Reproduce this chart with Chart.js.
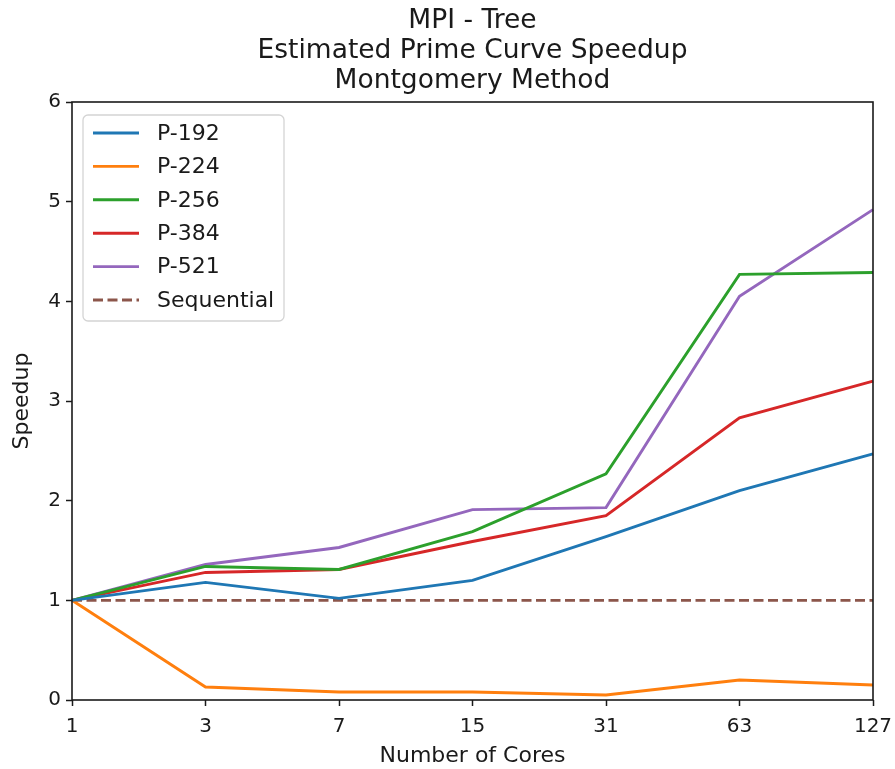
<!DOCTYPE html>
<html>
<head>
<meta charset="utf-8">
<script src="https://cdn.jsdelivr.net/npm/chart.js@4.4.1/dist/chart.umd.min.js"></script>
<style>
  html, body { margin: 0; padding: 0; background: #ffffff; }
  #wrap { width: 895px; height: 769px; position: relative; }
</style>
</head>
<body>
<div id="wrap"><canvas id="chart" width="895" height="769"></canvas></div>
<script>
// Core counts on the x axis
const cores = ['1', '3', '7', '15', '31', '63', '127'];

// Measured speedup per curve
const p192 = [1.00, 1.18, 1.02, 1.20, 1.64, 2.10, 2.47];
const p224 = [1.00, 0.13, 0.08, 0.08, 0.05, 0.20, 0.15];
const p256 = [1.00, 1.34, 1.31, 1.69, 2.27, 4.27, 4.29];
const p384 = [1.00, 1.28, 1.31, 1.59, 1.85, 2.83, 3.20];
const p521 = [1.00, 1.36, 1.53, 1.91, 1.93, 4.05, 4.92];
const sequential = [1, 1, 1, 1, 1, 1, 1];

const titleLines = ['MPI - Tree', 'Estimated Prime Curve Speedup', 'Montgomery Method'];
const FONT = "'DejaVu Sans', 'Liberation Sans', sans-serif";
const INK = '#1a1a1a';

function series(label, data, color, dash) {
  return {
    label, data,
    borderColor: color,
    backgroundColor: color,
    borderWidth: 2.9,
    borderDash: dash || [],
    pointRadius: 0,
    pointHoverRadius: 0,
    tension: 0,
    fill: false
  };
}

// Three-line title centred over the plotting area
const axesTitle = {
  id: 'axesTitle',
  afterDraw(chart) {
    const a = chart.chartArea, ctx = chart.ctx;
    const cx = (a.left + a.right) / 2;
    ctx.save();
    ctx.font = '26.5px ' + FONT;
    ctx.fillStyle = INK;
    ctx.textAlign = 'center';
    ctx.textBaseline = 'alphabetic';
    titleLines.forEach((t, i) => {
      ctx.fillText(t, cx, a.top - 74 + i * 29.8);
    });
    ctx.restore();
  }
};

// Frame around the plotting area (all four spines)
const frame = {
  id: 'frame',
  afterDatasetsDraw(chart) {
    const a = chart.chartArea, ctx = chart.ctx;
    ctx.save();
    ctx.strokeStyle = INK;
    ctx.lineWidth = 1.6;
    ctx.strokeRect(a.left, a.top, a.right - a.left, a.bottom - a.top);
    ctx.restore();
  }
};

// Boxed legend placed inside the upper-left corner of the plot
const insideLegend = {
  id: 'insideLegend',
  afterDraw(chart) {
    const a = chart.chartArea, ctx = chart.ctx;
    const sets = chart.data.datasets;
    const x0 = a.left + 11, y0 = a.top + 13;
    const w = 201, rowH = 33.4, h = 206;
    ctx.save();
    ctx.beginPath();
    ctx.roundRect(x0, y0, w, h, 5);
    ctx.fillStyle = 'rgba(255,255,255,0.85)';
    ctx.fill();
    ctx.strokeStyle = '#d4d4d4';
    ctx.lineWidth = 1.3;
    ctx.stroke();
    ctx.font = '22px ' + FONT;
    ctx.textBaseline = 'middle';
    ctx.textAlign = 'left';
    sets.forEach((ds, i) => {
      const cy = y0 + 18 + i * rowH;
      ctx.beginPath();
      ctx.setLineDash(ds.borderDash || []);
      ctx.strokeStyle = ds.borderColor;
      ctx.lineWidth = ds.borderWidth;
      ctx.moveTo(x0 + 10, cy);
      ctx.lineTo(x0 + 56, cy);
      ctx.stroke();
      ctx.setLineDash([]);
      ctx.fillStyle = INK;
      ctx.fillText(ds.label, x0 + 74, cy + 1);
    });
    ctx.restore();
  }
};

new Chart(document.getElementById('chart'), {
  type: 'line',
  data: {
    labels: cores,
    datasets: [
      series('P-192', p192, '#1f77b4'),
      series('P-224', p224, '#ff7f0e'),
      series('P-256', p256, '#2ca02c'),
      series('P-384', p384, '#d62728'),
      series('P-521', p521, '#9467bd'),
      series('Sequential', sequential, '#8c564b', [10, 4.5])
    ]
  },
  options: {
    responsive: false,
    animation: false,
    devicePixelRatio: 1,
    layout: { padding: { left: 0, right: 22, top: 102, bottom: 0 } },
    plugins: {
      legend: { display: false },
      tooltip: { enabled: false },
      title: { display: false }
    },
    scales: {
      x: {
        type: 'category',
        offset: false,
        afterFit(scale) {
          scale.height = 69;
          scale.paddingLeft = 0;
          scale.paddingRight = 0;
        },
        border: { display: false },
        grid: {
          display: true,
          drawOnChartArea: false,
          drawTicks: true,
          tickLength: 6,
          tickWidth: 1.5,
          tickColor: INK
        },
        ticks: {
          color: INK,
          font: { family: FONT, size: 20 },
          padding: 9,
          maxRotation: 0,
          autoSkip: false
        },
        title: {
          display: true,
          text: 'Number of Cores',
          color: INK,
          font: { family: FONT, size: 22 },
          padding: { top: 0, bottom: 0 }
        }
      },
      y: {
        min: 0,
        max: 6,
        afterFit(scale) {
          scale.width = 72;
          scale.paddingTop = 0;
          scale.paddingBottom = 0;
        },
        border: { display: false },
        grid: {
          display: true,
          drawOnChartArea: false,
          drawTicks: true,
          tickLength: 6,
          tickWidth: 1.5,
          tickColor: INK
        },
        ticks: {
          stepSize: 1,
          color: INK,
          font: { family: FONT, size: 20 },
          padding: 5
        },
        title: {
          display: true,
          text: 'Speedup',
          color: INK,
          font: { family: FONT, size: 22 },
          padding: { top: 9, bottom: 0 }
        }
      }
    }
  },
  plugins: [frame, insideLegend, axesTitle]
});
</script>
</body>
</html>
